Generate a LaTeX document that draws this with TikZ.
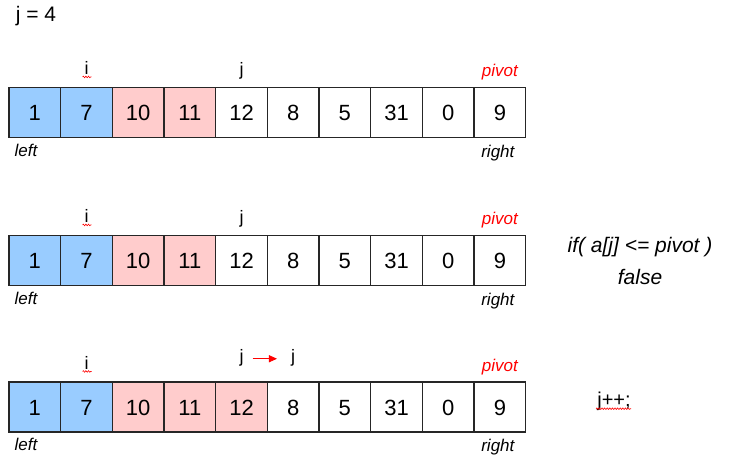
\documentclass[tikz,border=0pt]{standalone}
\usepackage{fontspec}
\setmainfont{Liberation Sans}
\usetikzlibrary{positioning,arrows.meta,decorations.pathmorphing}
\definecolor{lofill}{HTML}{99CCFF}
\definecolor{hifill}{HTML}{FFCCCC}
\definecolor{pivred}{HTML}{FF0000}

\begin{document}
\begin{tikzpicture}[
    x=1pt,y=-1pt,
    cell/.style={rectangle,draw=black!85,line width=1.1pt,
                 minimum width=51.67pt,minimum height=50pt,
                 inner sep=0pt,text height=16pt,text depth=0pt,
                 font=\fontsize{22}{26}\selectfont},
    lbl/.style={inner sep=0pt,text height=13pt,text depth=4pt,
                font=\fontsize{18}{22}\selectfont},
    tag/.style={lbl,font=\fontsize{17}{20}\selectfont\itshape},
    note/.style={align=center,font=\fontsize{21}{32}\selectfont\itshape},
    squig/.style={red,line width=0.6pt,decorate,
                  decoration={snake,amplitude=0.8pt,segment length=2.6pt}},
    arrow/.style={pivred,line width=1pt,-{Triangle[length=8pt,width=7pt]}}
]
\useasboundingbox (0,0) rectangle (731,462);
\node[lbl,font=\fontsize{21}{24}\selectfont] (jval) at (36,17) {j = 4};
\foreach \r/\y/\np in {1/112.5/4,2/260.5/4,3/407/5}{
  \foreach \k/\v in {1/1,2/7,3/10,4/11,5/12,6/8,7/5,8/31,9/0,10/9}{
    \ifnum\k<3 \def\clr{lofill}\else\ifnum\k>\np \def\clr{white}\else\def\clr{hifill}\fi\fi
    \node[cell,fill=\clr] (r\r c\k) at ({9+51.67*(\k-0.5)},\y) {\v};
  }
  \node[lbl,above=8pt of r\r c2] (i\r) {i};
  \draw[squig] ([xshift=-4pt,yshift=2pt]i\r.south) -- ([xshift=5pt,yshift=2pt]i\r.south);
  \node[tag,text=pivred,above=6pt of r\r c10] (piv\r) {pivot};
  \node[tag,anchor=north west] (left\r) at ([xshift=6pt,yshift=-5pt]r\r c1.south west) {left};
  \node[tag,anchor=north] (right\r) at ([xshift=-2pt,yshift=-6pt]r\r c10.south) {right};
}
\node[lbl,above=7pt of r1c5] (j1) {j};
\node[lbl,above=7pt of r2c5] (j2) {j};
\node[lbl,above=15pt of r3c5] (j3) {j};
\node[lbl,above=15pt of r3c6] (jn3) {j};
\draw[arrow] ([xshift=9pt,yshift=-1pt]j3.east) -- ([xshift=-14pt,yshift=-1pt]jn3.west);
\node[note] (cond) at (640,261) {if( a[j] <= pivot )\\false};
\node[lbl,font=\fontsize{20}{24}\selectfont] (jinc) at (614,402) {j++;};
\draw[squig] ([xshift=-18pt,yshift=2pt]jinc.south) -- ([xshift=17pt,yshift=2pt]jinc.south);
\end{tikzpicture}
\end{document}
